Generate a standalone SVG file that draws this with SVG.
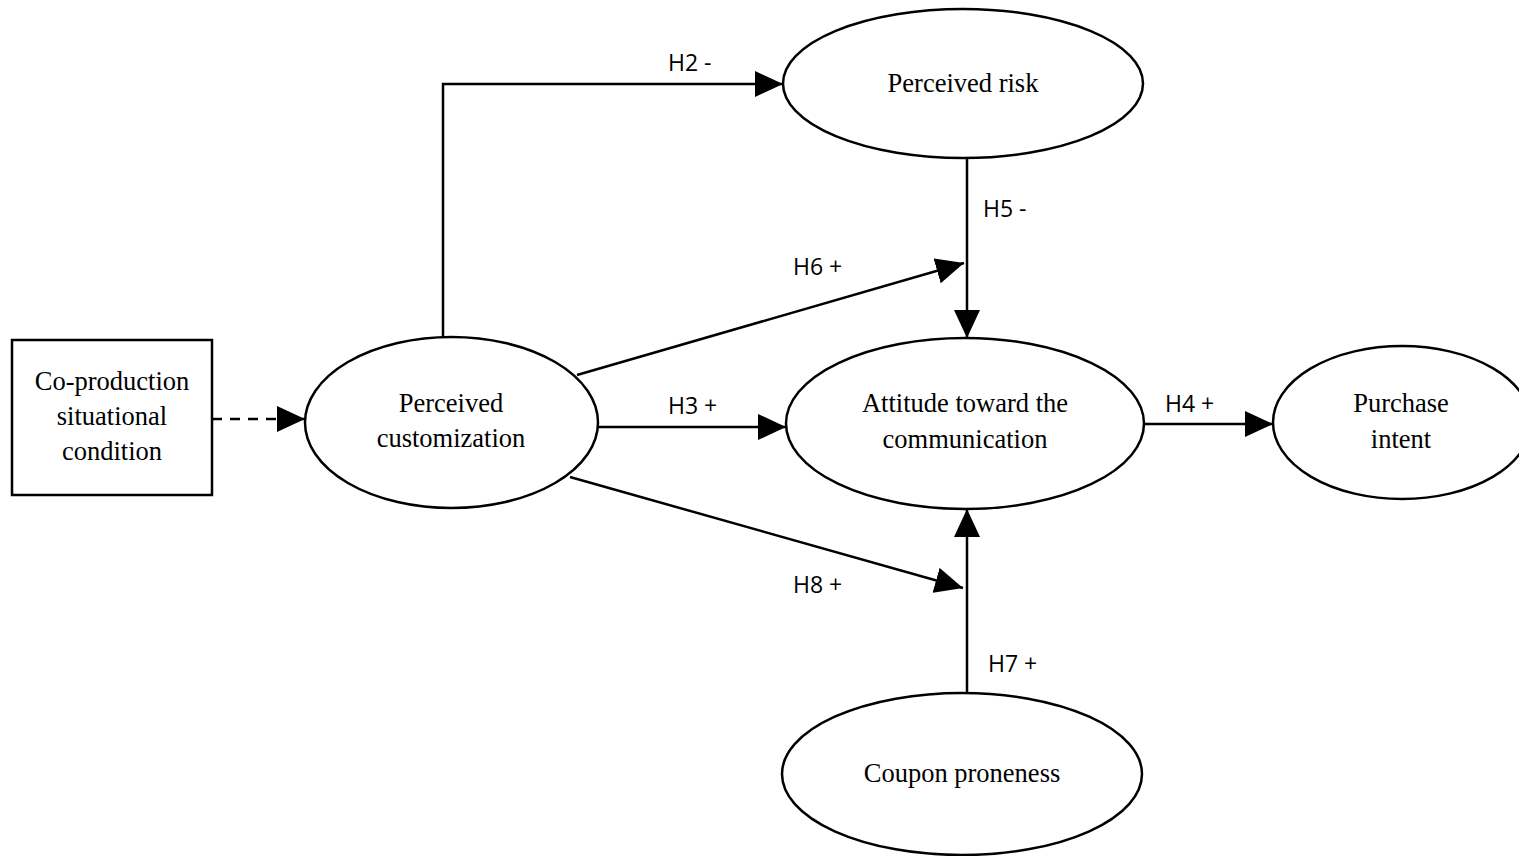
<svg xmlns="http://www.w3.org/2000/svg" width="1519" height="856" viewBox="0 0 1519 856">
<style>
.n{fill:#fff;stroke:#000;stroke-width:2.5}
.t{font-family:"Liberation Serif",serif;font-size:26.5px;fill:#000;text-anchor:middle}
.l{font-family:"Open Sans","Noto Sans",sans-serif;font-size:23px;fill:#000}
.c{fill:none;stroke:#000;stroke-width:2.5}
</style>
<defs>
<marker id="b" markerWidth="28" markerHeight="26" refX="28" refY="13" orient="auto" markerUnits="userSpaceOnUse" viewBox="0 0 28 26">
<path d="M0,0 L28,13 L0,26 Z" fill="#000"/>
</marker>
</defs>
<rect width="1519" height="856" fill="#fff"/>
<g id="connectors">
<path class="c" d="M212,419 L305,419" stroke-dasharray="10,8" marker-end="url(#b)"/>
<path class="c" d="M443,337 L443,84 L783,84" marker-end="url(#b)"/>
<path class="c" d="M967,158 L967,338" marker-end="url(#b)"/>
<path class="c" d="M577,375 L964,263" marker-end="url(#b)"/>
<path class="c" d="M598,427 L786,427" marker-end="url(#b)"/>
<path class="c" d="M1143,424 L1273,424" marker-end="url(#b)"/>
<path class="c" d="M570,477 L963,588" marker-end="url(#b)"/>
<path class="c" d="M967,693 L967,509" marker-end="url(#b)"/>
<text class="l" x="668" y="71">H2 -</text>
<text class="l" x="983" y="217">H5 -</text>
<text class="l" x="793" y="275">H6 +</text>
<text class="l" x="668" y="414">H3 +</text>
<text class="l" x="1165" y="412">H4 +</text>
<text class="l" x="793" y="593">H8 +</text>
<text class="l" x="988" y="672">H7 +</text>
</g>
<g id="coproduction">
<rect class="n" x="12" y="340" width="200" height="155"/>
<text class="t" x="112" y="390">Co-production</text>
<text class="t" x="112" y="425">situational</text>
<text class="t" x="112" y="460">condition</text>
</g>
<g id="customization">
<ellipse class="n" cx="451.5" cy="422.5" rx="146.5" ry="85.5"/>
<text class="t" x="451" y="412">Perceived</text>
<text class="t" x="451" y="447">customization</text>
</g>
<g id="risk">
<ellipse class="n" cx="963" cy="83.5" rx="180" ry="74.5"/>
<text class="t" x="963" y="92">Perceived risk</text>
</g>
<g id="attitude">
<ellipse class="n" cx="965" cy="423.5" rx="179" ry="85.5"/>
<text class="t" x="965" y="412">Attitude toward the</text>
<text class="t" x="965" y="448">communication</text>
</g>
<g id="purchase">
<ellipse class="n" cx="1402" cy="422.5" rx="129" ry="76.5"/>
<text class="t" x="1401" y="412">Purchase</text>
<text class="t" x="1401" y="448">intent</text>
</g>
<g id="coupon">
<ellipse class="n" cx="962" cy="774" rx="180" ry="81"/>
<text class="t" x="962" y="782">Coupon proneness</text>
</g>
</svg>
